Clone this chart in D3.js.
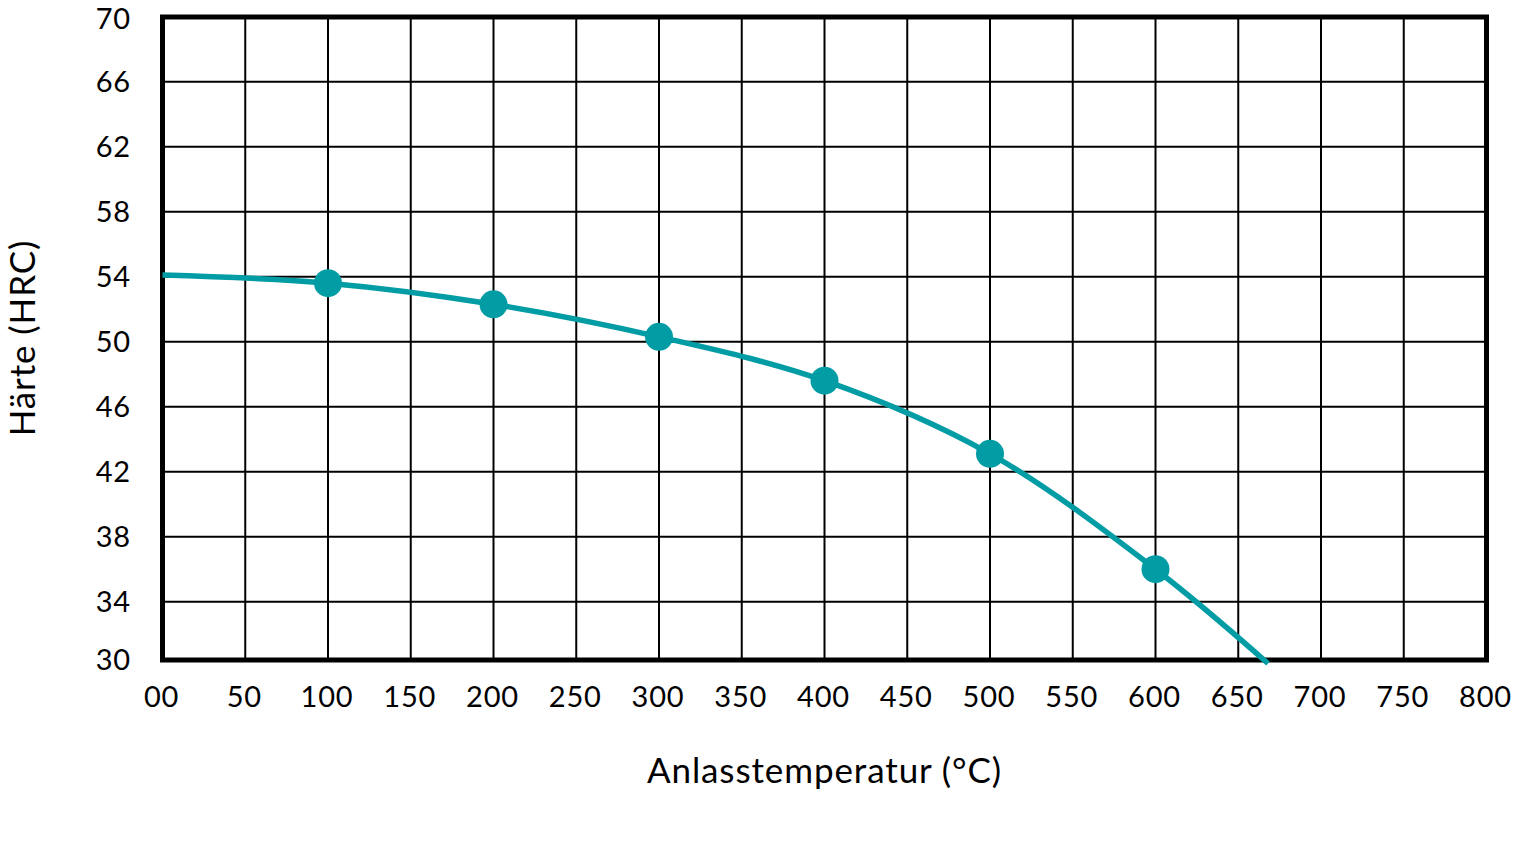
<!DOCTYPE html>
<html>
<head>
<meta charset="utf-8">
<script src="https://cdn.jsdelivr.net/npm/d3@7"></script>
<style>
  body { margin: 0; background: #fff; }
  text { font-family: Lato, "Open Sans", sans-serif; fill: #000; }
</style>
</head>
<body>
<div id="chart"></div>
<script>
/* DATA */
const temps = [100, 200, 300, 400, 500, 600];        // measured points
const hardness = [53.6, 52.3, 50.3, 47.6, 43.1, 36.0];
const curveTemps = [0, 100, 200, 300, 400, 500, 600, 668];  // drawn curve
const curveHardness = [54.1, 53.6, 52.3, 50.3, 47.6, 43.1, 36.0, 30.2];
const xTicks = d3.range(0, 801, 50);
const xTickLabels = xTicks.map(d => d === 0 ? '00' : String(d));
const yTicks = d3.range(30, 71, 4);

/* CONSTANTS */
const W = 1514, H = 842;
const teal = '#029ca5';

const svg = d3.select('#chart')
  .append('svg')
  .attr('width', W)
  .attr('height', H);

const x = d3.scaleLinear().domain([0, 800]).range([162.5, 1486.5]);
const y = d3.scaleLinear().domain([30, 70]).range([666.7, 16.7]);
const frameTop = 17, frameBottom = 660;

// grid
svg.append('g')
  .selectAll('line')
  .data(xTicks.slice(1, -1))
  .join('line')
  .attr('x1', d => x(d)).attr('x2', d => x(d))
  .attr('y1', frameTop).attr('y2', frameBottom)
  .attr('stroke', '#000').attr('stroke-width', 2);

svg.append('g')
  .selectAll('line')
  .data(yTicks.slice(1, -1))
  .join('line')
  .attr('x1', x(0)).attr('x2', x(800))
  .attr('y1', d => y(d)).attr('y2', d => y(d))
  .attr('stroke', '#000').attr('stroke-width', 2);

// frame
svg.append('rect')
  .attr('x', x(0)).attr('y', frameTop)
  .attr('width', x(800) - x(0))
  .attr('height', frameBottom - frameTop)
  .attr('fill', 'none')
  .attr('stroke', '#000')
  .attr('stroke-width', 5);

// tick labels (top and bottom ones kept inside the page / on the frame)
svg.append('g')
  .selectAll('text')
  .data(yTicks)
  .join('text')
  .attr('x', 131)
  .attr('y', d => Math.max(Math.min(y(d), frameBottom), 19))
  .attr('dy', '0.36em')
  .attr('text-anchor', 'end')
  .style('font-size', '29px')
  .style('letter-spacing', '0.8px')
  .text(d => d);

svg.append('g')
  .selectAll('text')
  .data(xTicks)
  .join('text')
  .attr('x', d => x(d) - 1)
  .attr('y', 707)
  .attr('text-anchor', 'middle')
  .style('font-size', '29px')
  .style('letter-spacing', '0.8px')
  .text((d, i) => xTickLabels[i]);

// axis titles
svg.append('text')
  .attr('x', x(400))
  .attr('y', 783)
  .attr('text-anchor', 'middle')
  .style('font-size', '35px')
  .style('letter-spacing', '0.9px')
  .text('Anlasstemperatur (°C)');

svg.append('text')
  .attr('transform', 'translate(35, 338) rotate(-90)')
  .attr('text-anchor', 'middle')
  .style('font-size', '35px')
  .style('letter-spacing', '0.9px')
  .text('Härte (HRC)');

// curve
const line = d3.line()
  .x(d => x(d[0]))
  .y(d => y(d[1]))
  .curve(d3.curveCatmullRom.alpha(0.5));

svg.append('path')
  .datum(d3.zip(curveTemps, curveHardness))
  .attr('d', line)
  .attr('fill', 'none')
  .attr('stroke', teal)
  .attr('stroke-width', 5.5);

svg.append('g')
  .selectAll('circle')
  .data(d3.zip(temps, hardness))
  .join('circle')
  .attr('cx', d => x(d[0]))
  .attr('cy', d => y(d[1]))
  .attr('r', 14)
  .attr('fill', teal);
</script>
</body>
</html>
